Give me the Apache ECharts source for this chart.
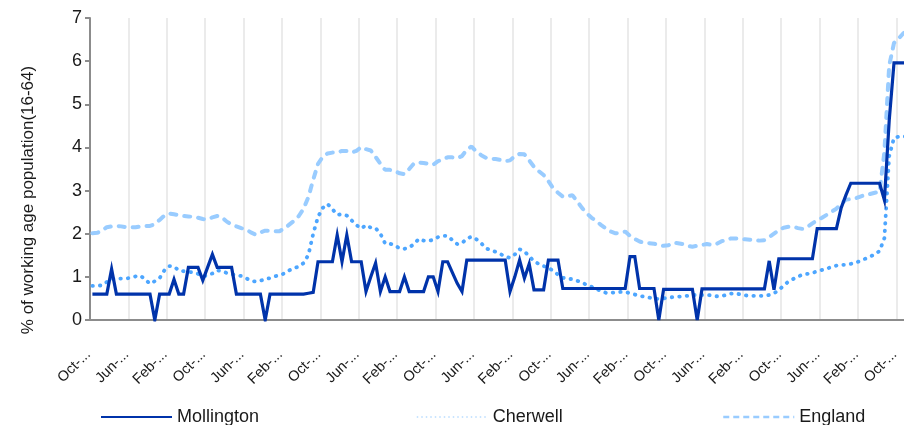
<!DOCTYPE html>
<html>
<head>
<meta charset="utf-8">
<script src="https://cdn.jsdelivr.net/npm/echarts@6/dist/echarts.min.js"></script>
<style>
  html, body { margin: 0; padding: 0; background: #fff; }
  #chart { width: 904px; height: 425px; }
</style>
</head>
<body>
<div id="chart"></div>
<script>
// Month names used for the category labels (monthly series starting Oct 2006)
const monthNames = ['Jan','Feb','Mar','Apr','May','Jun','Jul','Aug','Sep','Oct','Nov','Dec'];
const startYear = 2006, startMonth = 9, monthCount = 172;
const categories = [];
for (let k = 0; k < monthCount; k++) {
  const m = (startMonth + k) % 12;
  const y = startYear + Math.floor((startMonth + k) / 12);
  categories.push(monthNames[m] + '-' + String(y).slice(2));
}

const seriesNames = ['Mollington', 'Cherwell', 'England'];

const mollington = [
0.6,0.6,0.6,0.6,1.18,0.6,0.6,0.6,0.6,0.6,
0.6,0.6,0.6,0,0.6,0.6,0.6,0.94,0.6,0.6,
1.22,1.22,1.22,0.92,1.22,1.52,1.22,1.22,1.22,1.22,
0.6,0.6,0.6,0.6,0.6,0.6,0,0.6,0.6,0.6,
0.6,0.6,0.6,0.6,0.6,0.62,0.64,1.35,1.35,1.35,
1.35,1.97,1.35,1.97,1.35,1.35,1.35,0.66,1.0,1.32,
0.66,1.0,0.66,0.66,0.66,1.0,0.66,0.66,0.66,0.66,
1.0,1.0,0.66,1.35,1.35,1.1,0.85,0.66,1.39,1.39,
1.39,1.39,1.39,1.39,1.39,1.39,1.39,0.66,1.0,1.39,
0.97,1.30,0.7,0.7,0.7,1.39,1.39,1.39,0.73,0.73,
0.73,0.73,0.73,0.73,0.73,0.73,0.73,0.73,0.73,0.73,
0.73,0.73,1.47,1.47,0.73,0.73,0.73,0.73,0,0.71,
0.71,0.71,0.71,0.71,0.71,0.71,0,0.72,0.72,0.72,
0.72,0.72,0.72,0.72,0.72,0.72,0.72,0.72,0.72,0.72,
0.72,1.37,0.70,1.42,1.42,1.42,1.42,1.42,1.42,1.42,
1.42,2.12,2.12,2.12,2.12,2.12,2.6,2.9,3.17,3.17,
3.17,3.17,3.17,3.17,3.17,2.78,4.62,5.96,5.96,5.96,
5.96,5.96
];

const cherwell = [
0.79,0.80,0.80,0.88,0.95,0.96,0.96,0.96,0.98,1.01,
1.03,0.94,0.84,0.90,0.97,1.15,1.25,1.24,1.15,1.13,
1.12,1.10,1.07,1.02,1.03,1.08,1.15,1.13,1.09,1.06,
1.04,1.02,0.97,0.91,0.89,0.91,0.95,0.97,1.01,1.04,
1.08,1.15,1.20,1.24,1.32,1.51,2.00,2.39,2.60,2.69,
2.57,2.44,2.45,2.42,2.31,2.20,2.12,2.20,2.14,2.13,
2.00,1.77,1.77,1.73,1.66,1.65,1.68,1.76,1.88,1.84,
1.83,1.86,1.92,1.95,1.95,1.85,1.76,1.78,1.89,1.93,
1.87,1.78,1.66,1.62,1.58,1.53,1.47,1.44,1.52,1.64,
1.59,1.48,1.36,1.30,1.25,1.21,1.14,1.05,0.98,0.95,
0.95,0.91,0.87,0.81,0.77,0.72,0.67,0.63,0.63,0.64,
0.65,0.65,0.62,0.59,0.56,0.54,0.52,0.49,0.49,0.50,
0.52,0.53,0.54,0.55,0.56,0.58,0.58,0.58,0.58,0.57,
0.55,0.55,0.58,0.61,0.62,0.59,0.57,0.56,0.56,0.56,
0.56,0.58,0.62,0.69,0.80,0.89,0.95,1.01,1.05,1.07,
1.09,1.13,1.16,1.19,1.23,1.26,1.28,1.28,1.30,1.33,
1.37,1.42,1.47,1.52,1.60,1.90,3.80,4.22,4.25,4.25,
4.26,4.26
];

const england = [
2.01,2.02,2.07,2.15,2.17,2.18,2.17,2.15,2.15,2.15,
2.17,2.18,2.18,2.22,2.32,2.42,2.47,2.45,2.43,2.41,
2.40,2.39,2.37,2.34,2.33,2.38,2.41,2.38,2.28,2.21,
2.17,2.13,2.10,2.03,1.98,2.03,2.07,2.07,2.06,2.06,
2.12,2.21,2.30,2.41,2.58,2.85,3.25,3.62,3.78,3.86,
3.88,3.88,3.92,3.92,3.88,3.92,4.01,3.96,3.93,3.78,
3.62,3.48,3.48,3.45,3.40,3.38,3.50,3.63,3.65,3.64,
3.62,3.60,3.68,3.73,3.77,3.77,3.75,3.80,3.95,4.02,
3.90,3.82,3.76,3.74,3.73,3.71,3.68,3.70,3.80,3.85,
3.84,3.70,3.55,3.45,3.36,3.22,3.05,2.95,2.86,2.87,
2.89,2.75,2.60,2.47,2.37,2.29,2.20,2.12,2.05,2.01,
2.02,2.05,1.95,1.88,1.82,1.79,1.78,1.77,1.74,1.72,
1.73,1.79,1.78,1.76,1.72,1.70,1.72,1.74,1.76,1.74,
1.76,1.82,1.86,1.89,1.89,1.88,1.87,1.86,1.85,1.84,
1.85,1.92,2.00,2.08,2.14,2.16,2.16,2.13,2.11,2.16,
2.24,2.31,2.37,2.44,2.51,2.58,2.69,2.79,2.80,2.82,
2.86,2.90,2.92,2.95,2.97,3.90,5.90,6.42,6.53,6.65,
6.72,6.76
];

const yTitle = '% of working age population(16-64)';
const FONT = '"Liberation Sans", Arial, sans-serif';
const axisGrey = '#8c8c8c';

const chart = echarts.init(document.getElementById('chart'));

const legendBase = {
  top: 403,
  itemWidth: 71,
  itemHeight: 22,
  itemStyle: { opacity: 0 },
  selectedMode: false,
  textStyle: { fontFamily: FONT, fontSize: 18, color: '#1a1a1a' }
};

chart.setOption({
  animation: false,
  backgroundColor: '#fff',
  grid: { left: 90, top: 18, bottom: 105, width: 825.6, containLabel: false, outerBoundsMode: 'none' },
  xAxis: {
    type: 'category',
    data: categories,
    boundaryGap: true,
    axisLine: { lineStyle: { color: axisGrey, width: 2 } },
    axisTick: { interval: 7, length: 5, lineStyle: { color: axisGrey, width: 2 } },
    axisLabel: {
      interval: 7, rotate: 45, margin: 28, padding: [0, 6, 0, 0],
      fontFamily: FONT, fontSize: 14.5, color: '#1a1a1a',
      formatter: v => v.slice(0, 4) + '...'
    },
    splitLine: { show: true, interval: 7, lineStyle: { color: '#ebebeb', width: 2 } }
  },
  yAxis: {
    type: 'value', min: 0, max: 7, interval: 1,
    axisLine: { show: true, lineStyle: { color: axisGrey, width: 2 } },
    axisTick: { show: true, length: 5, lineStyle: { color: axisGrey, width: 2 } },
    axisLabel: { margin: 8, fontFamily: FONT, fontSize: 18, color: '#1a1a1a' },
    splitLine: { show: false }
  },
  legend: [
    Object.assign({}, legendBase, { data: [seriesNames[0]], left: 95 }),
    Object.assign({}, legendBase, { data: [seriesNames[1]], left: 411,
      lineStyle: { width: 1.5, color: '#b8dcff', type: [1.5, 3], cap: 'butt' } }),
    Object.assign({}, legendBase, { data: [seriesNames[2]], left: 717,
      lineStyle: { width: 2.5, type: [6, 4], cap: 'butt' } })
  ],
  graphic: [{
    type: 'text', x: 28, y: 200, rotation: Math.PI / 2,
    style: { text: yTitle, font: '17px ' + FONT, fill: '#1a1a1a', textAlign: 'center', textVerticalAlign: 'middle' }
  }],
  series: [
    { name: seriesNames[1], type: 'line', data: cherwell, symbol: 'none', z: 2,
      lineStyle: { color: '#4da6ff', width: 3.8, type: [0.5, 7], cap: 'round' },
      itemStyle: { color: '#4da6ff' } },
    { name: seriesNames[2], type: 'line', data: england, symbol: 'none', z: 3,
      lineStyle: { color: '#99ccff', width: 4, type: [6, 8], cap: 'round' },
      itemStyle: { color: '#99ccff' } },
    { name: seriesNames[0], type: 'line', data: mollington, symbol: 'none', z: 4,
      lineStyle: { color: '#0033aa', width: 3.2, join: 'miter', miterLimit: 6 },
      itemStyle: { color: '#0033aa' } }
  ]
});
</script>
</body>
</html>
